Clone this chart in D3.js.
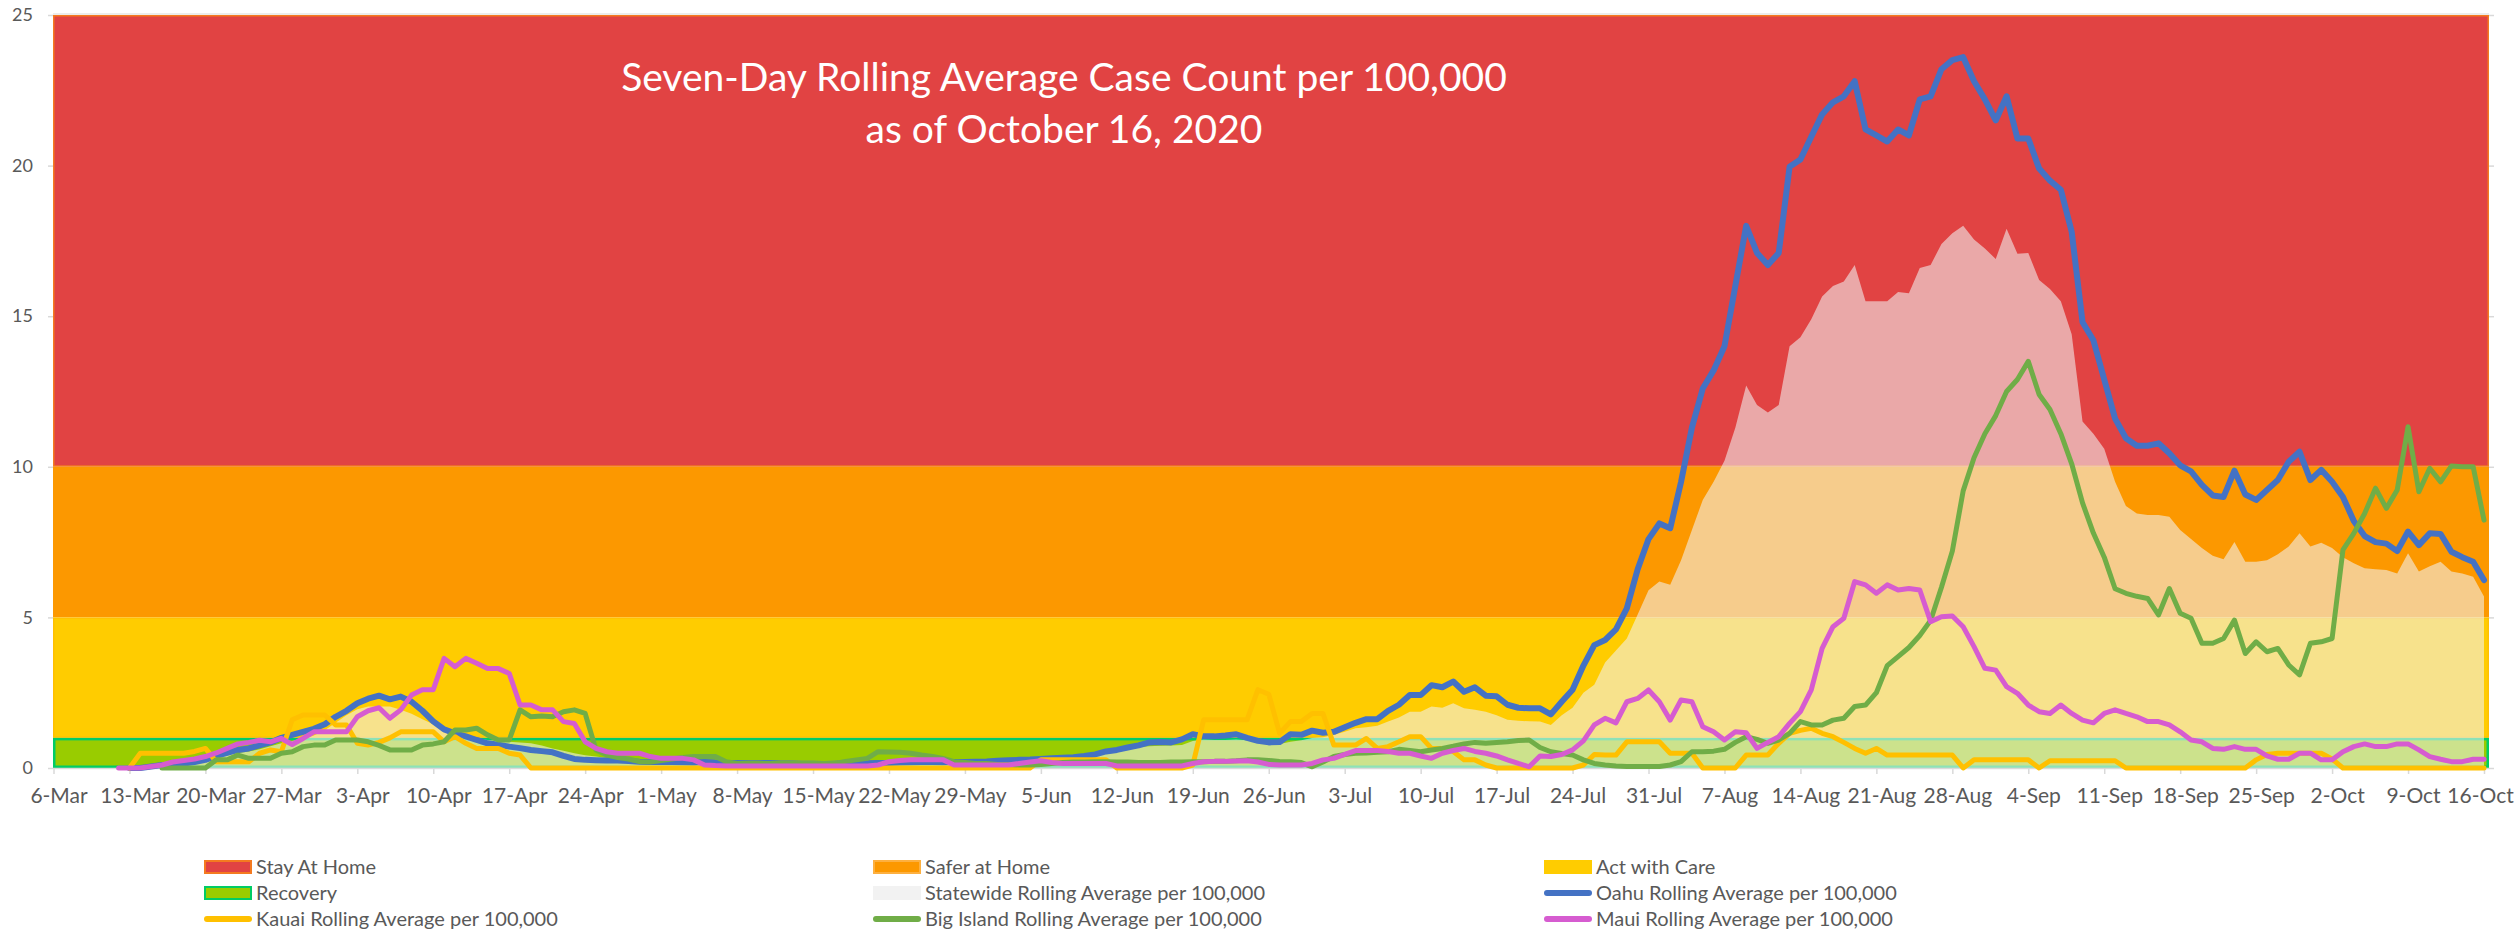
<!DOCTYPE html>
<html>
<head>
<meta charset="utf-8">
<script src="https://cdn.jsdelivr.net/npm/d3@7"></script>
<style>
  body { margin: 0; background: #fff; }
  svg { display: block; font-family: Lato, "Open Sans", sans-serif; }
</style>
</head>
<body>
<div id="chart"></div>
<script>
// dates run daily from startDate to endDate, one value per day (null = no data yet)
const startDate = "6-Mar-2020";
const endDate = "16-Oct-2020";

const tickLabels = ["6-Mar", "13-Mar", "20-Mar", "27-Mar", "3-Apr", "10-Apr", "17-Apr", "24-Apr",
    "1-May", "8-May", "15-May", "22-May", "29-May", "5-Jun", "12-Jun", "19-Jun", "26-Jun",
    "3-Jul", "10-Jul", "17-Jul", "24-Jul", "31-Jul", "7-Aug", "14-Aug", "21-Aug", "28-Aug",
    "4-Sep", "11-Sep", "18-Sep", "25-Sep", "2-Oct", "9-Oct", "16-Oct"];

const yTicks = [0, 5, 10, 15, 20, 25];

// reopening tiers (background bands)
const bandNames = ["Stay At Home", "Safer at Home", "Act with Care", "Recovery"];
const bandLow = [10, 5, 1, 0];
const bandHigh = [25, 10, 5, 1];

const statewide = [
    null, null, null, null, null, null, null,
    0, 0.05, 0.1, 0.12, 0.15, 0.2, 0.25,
    0.3, 0.38, 0.45, 0.5, 0.55, 0.62, 0.72,
    0.82, 0.9, 0.98, 1.08, 1.25, 1.5, 1.75,
    1.95, 2.04, 2.04, 2.04, 1.93, 1.8, 1.62,
    1.45, 1.3, 1.15, 1.04, 0.98, 0.93, 0.9,
    0.87, 0.85, 0.82, 0.75, 0.65, 0.57, 0.49,
    0.42, 0.38, 0.33, 0.28, 0.25, 0.23, 0.21,
    0.21, 0.2, 0.2, 0.2, 0.18, 0.17, 0.16,
    0.15, 0.14, 0.14, 0.13, 0.13, 0.12, 0.12,
    0.12, 0.12, 0.13, 0.14, 0.15, 0.17, 0.2,
    0.22, 0.23, 0.23, 0.22, 0.2, 0.19, 0.18,
    0.18, 0.18, 0.19, 0.2, 0.22, 0.24, 0.26,
    0.3, 0.32, 0.34, 0.36, 0.4, 0.43, 0.5,
    0.6, 0.65, 0.7, 0.72, 0.74, 0.75, 0.76,
    0.9, 0.95, 0.93, 0.93, 0.95, 0.92, 0.93,
    0.9, 0.8, 0.87, 0.92, 1.0, 1.02, 1.1,
    1.2, 1.32, 1.35, 1.4, 1.54, 1.68, 1.87,
    1.87, 2.04, 2.0, 2.15, 1.98, 1.93, 1.87,
    1.75, 1.6, 1.57, 1.55, 1.54, 1.43, 1.75,
    2.0, 2.5, 2.76, 3.5, 3.9, 4.3, 5.1,
    5.9, 6.19, 6.08, 6.9, 7.9, 8.9, 9.5,
    10.2, 11.3, 12.7, 12.05, 11.8, 12.05, 14.0,
    14.3, 14.9, 15.65, 16.0, 16.15, 16.7, 15.5,
    15.5, 15.5, 15.8, 15.76, 16.6, 16.7, 17.4,
    17.75, 18.0, 17.55, 17.25, 16.9, 17.9, 17.07,
    17.1, 16.2, 15.9, 15.5, 14.4, 11.5, 11.1,
    10.6, 9.5, 8.7, 8.45, 8.4, 8.4, 8.34,
    7.9, 7.6, 7.3, 7.05, 6.93, 7.5, 6.85,
    6.85, 6.9, 7.1, 7.35, 7.79, 7.35, 7.48,
    7.3, 7.0, 6.8, 6.63, 6.6, 6.57, 6.46,
    7.13, 6.52, 6.7, 6.85, 6.52, 6.46, 6.35,
    5.69
];

const oahu = [
    null, null, null, null, null, null, null,
    0, 0, 0.05, 0.1, 0.1, 0.15, 0.2,
    0.27, 0.4, 0.5, 0.6, 0.65, 0.75, 0.85,
    1.0, 1.1, 1.2, 1.3, 1.45, 1.7, 1.9,
    2.15, 2.3, 2.4, 2.28, 2.37, 2.2, 1.9,
    1.55, 1.28, 1.15, 1.05, 0.93, 0.82, 0.77,
    0.71, 0.66, 0.6, 0.56, 0.52, 0.4, 0.3,
    0.27, 0.26, 0.25, 0.25, 0.23, 0.21, 0.2,
    0.2, 0.2, 0.19, 0.18, 0.2, 0.18, 0.17,
    0.17, 0.16, 0.16, 0.17, 0.15, 0.15, 0.14,
    0.14, 0.13, 0.14, 0.15, 0.15, 0.16, 0.17,
    0.17, 0.18, 0.19, 0.2, 0.2, 0.19, 0.2,
    0.2, 0.21, 0.22, 0.24, 0.26, 0.27, 0.28,
    0.3, 0.32, 0.34, 0.36, 0.4, 0.45, 0.55,
    0.6, 0.68, 0.75, 0.85, 0.86, 0.85, 0.95,
    1.12, 1.05, 1.05, 1.08, 1.12, 1.0, 0.9,
    0.85, 0.86, 1.12, 1.1, 1.24, 1.17, 1.2,
    1.35, 1.5, 1.62, 1.62, 1.9, 2.1, 2.42,
    2.42, 2.75, 2.68, 2.87, 2.53, 2.68, 2.4,
    2.38, 2.1, 2.0, 1.98, 1.98, 1.78, 2.2,
    2.6, 3.4, 4.08, 4.25, 4.6, 5.3, 6.6,
    7.6, 8.12, 7.96, 9.5, 11.3, 12.6, 13.2,
    14.0, 16.0, 18.0, 17.1, 16.7, 17.1, 19.96,
    20.2, 20.96, 21.7, 22.1, 22.3, 22.8, 21.2,
    21.0, 20.8, 21.2, 21.0, 22.2, 22.3, 23.2,
    23.5, 23.6, 22.8, 22.2, 21.5, 22.3, 20.9,
    20.9, 19.9, 19.5, 19.2, 17.8, 14.8, 14.2,
    12.9, 11.6, 10.95, 10.7, 10.7, 10.78, 10.45,
    10.05, 9.85, 9.4, 9.05, 9.0, 9.87, 9.08,
    8.9, 9.23, 9.56, 10.17, 10.5, 9.56, 9.9,
    9.5, 9.0, 8.2, 7.7, 7.5, 7.45, 7.2,
    7.85, 7.4, 7.79, 7.77, 7.18, 7.0, 6.85,
    6.24
];

const kauai = [
    null, null, null, null, null, null, null,
    0, 0.49, 0.49, 0.49, 0.49, 0.49, 0.55,
    0.65, 0.21, 0.21, 0.21, 0.21, 0.49, 0.6,
    0.54, 1.6, 1.76, 1.76, 1.76, 1.43, 1.43,
    0.82, 0.76, 0.85, 1.0, 1.2, 1.2, 1.2,
    1.2, 0.87, 1.04, 0.82, 0.65, 0.65, 0.65,
    0.49, 0.43, 0, 0, 0, 0, 0,
    0, 0, 0, 0, 0, 0, 0,
    0, 0, 0, 0, 0, 0, 0,
    0, 0, 0, 0, 0, 0, 0,
    0, 0, 0, 0, 0, 0, 0,
    0, 0, 0, 0, 0, 0, 0,
    0, 0, 0, 0, 0, 0, 0,
    0.27, 0.27, 0.27, 0.27, 0.27, 0.27, 0.27,
    0, 0, 0, 0, 0, 0, 0,
    0.1, 1.6, 1.6, 1.6, 1.6, 1.6, 2.6,
    2.45, 1.15, 1.54, 1.54, 1.81, 1.81, 0.76,
    0.76, 0.76, 0.98, 0.65, 0.71, 0.87, 1.04,
    1.04, 0.65, 0.65, 0.55, 0.27, 0.27, 0.1,
    0, 0, 0, 0, 0, 0, 0,
    0, 0.1, 0.45, 0.43, 0.43, 0.87, 0.87,
    0.87, 0.87, 0.49, 0.49, 0.49, 0, 0,
    0, 0, 0.43, 0.43, 0.43, 0.82, 1.15,
    1.25, 1.32, 1.15, 1.04, 0.85, 0.65, 0.49,
    0.65, 0.43, 0.43, 0.43, 0.43, 0.43, 0.43,
    0.43, 0, 0.27, 0.27, 0.27, 0.27, 0.27,
    0.27, 0, 0.24, 0.24, 0.24, 0.24, 0.24,
    0.24, 0.24, 0, 0, 0, 0, 0,
    0, 0, 0, 0, 0, 0, 0,
    0.27, 0.45, 0.49, 0.49, 0.49, 0.49, 0.49,
    0.3, 0, 0, 0, 0, 0, 0,
    0, 0, 0, 0, 0, 0, 0,
    0
];

const bigIsland = [
    null, null, null, null, null, null, null,
    null, null, null, 0, 0, 0, 0,
    0, 0.27, 0.27, 0.43, 0.32, 0.32, 0.32,
    0.49, 0.54, 0.71, 0.76, 0.76, 0.93, 0.93,
    0.93, 0.87, 0.75, 0.6, 0.6, 0.6, 0.76,
    0.8, 0.87, 1.26, 1.26, 1.32, 1.1, 0.93,
    0.93, 1.93, 1.7, 1.73, 1.7, 1.87, 1.93,
    1.81, 0.6, 0.43, 0.35, 0.3, 0.21, 0.2,
    0.25, 0.3, 0.35, 0.38, 0.38, 0.38, 0.21,
    0.15, 0.15, 0.15, 0.15, 0.15, 0.15, 0.15,
    0.15, 0.15, 0.15, 0.22, 0.27, 0.32, 0.54,
    0.53, 0.52, 0.49, 0.43, 0.38, 0.32, 0.21,
    0.18, 0.15, 0.15, 0.12, 0.12, 0.1, 0.1,
    0.12, 0.15, 0.18, 0.2, 0.2, 0.21, 0.21,
    0.2, 0.2, 0.18, 0.18, 0.18, 0.2, 0.2,
    0.21, 0.21, 0.22, 0.22, 0.24, 0.27, 0.27,
    0.25, 0.22, 0.21, 0.18, 0.04, 0.2, 0.38,
    0.45, 0.49, 0.5, 0.52, 0.54, 0.62, 0.58,
    0.54, 0.6, 0.65, 0.72, 0.8, 0.85, 0.82,
    0.85, 0.87, 0.91, 0.93, 0.68, 0.54, 0.48,
    0.43, 0.27, 0.15, 0.1, 0.07, 0.05, 0.05,
    0.05, 0.05, 0.1, 0.21, 0.54, 0.54, 0.56,
    0.62, 0.85, 1.04, 0.95, 0.82, 0.93, 1.15,
    1.54, 1.43, 1.43, 1.59, 1.65, 2.04, 2.09,
    2.5, 3.4, 3.7, 4.0, 4.4, 4.9, 6.0,
    7.2, 9.2, 10.3, 11.1, 11.7, 12.5, 12.9,
    13.5, 12.4, 11.9, 11.1, 10.1, 8.8, 7.8,
    7.0, 5.95, 5.8, 5.7, 5.63, 5.08, 5.96,
    5.14, 4.97, 4.14, 4.14, 4.3, 4.91, 3.8,
    4.19, 3.86, 3.97, 3.42, 3.09, 4.14, 4.19,
    4.3, 7.24, 7.79, 8.45, 9.29, 8.62, 9.23,
    11.33, 9.17, 9.95, 9.5, 10.03, 10.0, 10.0,
    8.23
];

const maui = [
    null, null, null, null, null, null, 0,
    0, 0, 0.05, 0.1, 0.2, 0.25, 0.3,
    0.38, 0.5, 0.65, 0.8, 0.85, 0.92, 0.87,
    0.98, 0.78, 0.98, 1.2, 1.2, 1.2, 1.2,
    1.7, 1.9, 2.0, 1.65, 1.93, 2.42, 2.6,
    2.6, 3.64, 3.36, 3.64, 3.48, 3.3, 3.3,
    3.14, 2.09, 2.09, 1.93, 1.93, 1.54, 1.48,
    0.87, 0.65, 0.54, 0.49, 0.49, 0.49, 0.38,
    0.32, 0.32, 0.32, 0.27, 0.1, 0.08, 0.07,
    0.07, 0.07, 0.07, 0.07, 0.07, 0.07, 0.07,
    0.07, 0.07, 0.07, 0.07, 0.07, 0.07, 0.1,
    0.21, 0.25, 0.27, 0.27, 0.27, 0.27, 0.1,
    0.1, 0.1, 0.1, 0.1, 0.1, 0.15, 0.2,
    0.24, 0.18, 0.15, 0.15, 0.15, 0.15, 0.15,
    0.07, 0.07, 0.07, 0.07, 0.07, 0.07, 0.07,
    0.15, 0.21, 0.22, 0.22, 0.23, 0.24, 0.2,
    0.12, 0.1, 0.1, 0.1, 0.15, 0.27, 0.32,
    0.45, 0.58, 0.58, 0.58, 0.55, 0.49, 0.49,
    0.4, 0.32, 0.49, 0.58, 0.65, 0.55, 0.49,
    0.4, 0.27, 0.15, 0.04, 0.4, 0.38, 0.45,
    0.6, 0.9, 1.43, 1.65, 1.5, 2.2, 2.31,
    2.59, 2.2, 1.59, 2.26, 2.2, 1.37, 1.2,
    0.93, 1.2, 1.17, 0.65, 0.85, 1.04, 1.48,
    1.87, 2.59, 3.97, 4.69, 4.97, 6.19, 6.08,
    5.8, 6.08, 5.91, 5.96, 5.91, 4.86, 5.02,
    5.05, 4.69, 4.03, 3.31, 3.25, 2.7, 2.48,
    2.09, 1.87, 1.81, 2.09, 1.81, 1.59, 1.5,
    1.81, 1.93, 1.81, 1.7, 1.54, 1.54, 1.43,
    1.2, 0.93, 0.87, 0.65, 0.62, 0.71, 0.62,
    0.62, 0.4, 0.29, 0.29, 0.49, 0.49, 0.27,
    0.27, 0.54, 0.71, 0.8, 0.71, 0.71, 0.8,
    0.8, 0.6, 0.38, 0.29, 0.21, 0.21, 0.29,
    0.29
];

// SETUP
const width = 2516, height = 931;
const plotLeft = 53, plotRight = 2489, plotTop = 15, plotBottom = 768;

const parseDate = d3.utcParse("%d-%b-%Y");
const dates = d3.utcDay.range(parseDate(startDate), d3.utcDay.offset(parseDate(endDate), 1));
const tickDates = tickLabels.map(t => parseDate(t + "-2020"));

const svg = d3.select("#chart")
    .append("svg")
    .attr("width", width)
    .attr("height", height);

svg.append("rect")
    .attr("width", width)
    .attr("height", height)
    .attr("fill", "#fff");

const xScale = d3.scaleUtc()
    .domain([dates[0], dates[dates.length - 1]])
    .range([53.5, 2484]);

const yScale = d3.scaleLinear()
    .domain([0, 25])
    .range([plotBottom, plotTop]);

// tier bands
const bandFill = ["#E14343", "#FC9800", "#FFCC00", "#99CC00"];
const bandStroke = ["#F47A20", "#FC9800", "#FFC000", "#00CC66"];
const bandStrokeWidth = [1.5, 0, 1.5, 2.5];

svg.append("line")
    .attr("x1", plotLeft).attr("x2", plotRight)
    .attr("y1", plotTop - 1).attr("y2", plotTop - 1)
    .attr("stroke", "#D9D9D9")
    .attr("stroke-width", 1);

svg.selectAll("rect.band")
    .data(bandNames)
    .enter()
    .append("rect")
    .attr("class", "band")
    .attr("x", (d, i) => plotLeft + bandStrokeWidth[i] / 2)
    .attr("y", (d, i) => yScale(bandHigh[i]) + bandStrokeWidth[i] / 2)
    .attr("width", (d, i) => plotRight - plotLeft - bandStrokeWidth[i])
    .attr("height", (d, i) => yScale(bandLow[i]) - yScale(bandHigh[i]) - bandStrokeWidth[i])
    .attr("fill", (d, i) => bandFill[i])
    .attr("stroke", (d, i) => bandStrokeWidth[i] ? bandStroke[i] : "none")
    .attr("stroke-width", (d, i) => bandStrokeWidth[i]);

// statewide area (translucent)
const area = d3.area()
    .defined(d => d[1] != null)
    .x(d => xScale(d[0]))
    .y0(yScale(0))
    .y1(d => yScale(d[1]));

svg.append("path")
    .datum(dates.map((d, i) => [d, statewide[i]]))
    .attr("d", area)
    .attr("fill", "#F2F2F2")
    .attr("fill-opacity", 0.58);

// x axis
const xAxis = svg.append("g")
    .attr("transform", `translate(0,${plotBottom})`)
    .call(d3.axisBottom(xScale)
        .tickValues(tickDates)
        .tickFormat((d, i) => tickLabels[i])
        .tickSizeOuter(0)
        .tickSize(6)
        .tickPadding(14));

xAxis.select(".domain").attr("stroke", "#D9D9D9").attr("stroke-width", 1.5)
    .attr("d", `M${plotLeft},0.5H${plotRight}`);
xAxis.selectAll(".tick line").attr("stroke", "#D9D9D9").attr("stroke-width", 1.5);
xAxis.selectAll(".tick text")
    .attr("dx", (d, i) => i === tickLabels.length - 1 ? -4 : 5)
    .attr("fill", "#595959")
    .style("font-size", "21px")
    .style("font-family", "Lato, sans-serif");

// y axis
const yAxis = svg.append("g")
    .attr("transform", `translate(${plotLeft},0)`)
    .call(d3.axisLeft(yScale)
        .tickValues(yTicks)
        .tickSize(5)
        .tickPadding(15));

yAxis.select(".domain").remove();
yAxis.selectAll(".tick line").attr("stroke", "#D9D9D9").attr("stroke-width", 1.5);
yAxis.selectAll(".tick text")
    .attr("fill", "#595959")
    .style("font-size", "18px")
    .style("font-family", "Lato, sans-serif");

const yAxisRight = svg.append("g")
    .attr("transform", `translate(${plotRight},0)`)
    .call(d3.axisRight(yScale).tickValues(yTicks).tickSize(5).tickFormat(""));
yAxisRight.select(".domain").remove();
yAxisRight.selectAll(".tick line").attr("stroke", "#D9D9D9").attr("stroke-width", 1.5);

// county lines, drawn in the order of the legend
const seriesNames = ["Oahu", "Kauai", "Big Island", "Maui"];
const seriesValues = [oahu, kauai, bigIsland, maui];
const seriesColors = ["#4472C4", "#FFC000", "#70AD47", "#D65CD0"];
const seriesWidths = [6, 5, 5, 5];

const line = d3.line()
    .defined(d => d[1] != null)
    .x(d => xScale(d[0]))
    .y(d => yScale(d[1]));

svg.selectAll("path.county")
    .data(seriesValues)
    .enter()
    .append("path")
    .attr("class", "county")
    .attr("d", vals => line(dates.map((d, i) => [d, vals[i]])))
    .attr("fill", "none")
    .attr("stroke", (d, i) => seriesColors[i])
    .attr("stroke-width", (d, i) => seriesWidths[i])
    .attr("stroke-linejoin", "round")
    .attr("stroke-linecap", "round");

// title
const titleLines = ["Seven-Day Rolling Average Case Count per 100,000", "as of October 16, 2020"];
svg.selectAll("text.title")
    .data(titleLines)
    .enter()
    .append("text")
    .attr("class", "title")
    .attr("x", 1064)
    .attr("y", (d, i) => 91 + i * 52)
    .attr("text-anchor", "middle")
    .attr("fill", "#fff")
    .style("font-size", "39px")
    .text(d => d);

// legend: 3 columns x 3 rows
const legendItems = [
    { name: "Stay At Home", type: "rect", fill: bandFill[0], stroke: bandStroke[0] },
    { name: "Safer at Home", type: "rect", fill: bandFill[1], stroke: "#FDB040" },
    { name: "Act with Care", type: "rect", fill: bandFill[2], stroke: bandFill[2] },
    { name: "Recovery", type: "rect", fill: bandFill[3], stroke: bandStroke[3] },
    { name: "Statewide Rolling Average per 100,000", type: "rect", fill: "#F2F2F2", stroke: "#F2F2F2" },
    { name: seriesNames[0] + " Rolling Average per 100,000", type: "line", color: seriesColors[0] },
    { name: seriesNames[1] + " Rolling Average per 100,000", type: "line", color: seriesColors[1] },
    { name: seriesNames[2] + " Rolling Average per 100,000", type: "line", color: seriesColors[2] },
    { name: seriesNames[3] + " Rolling Average per 100,000", type: "line", color: seriesColors[3] }
];
const legendCols = [204, 873, 1544];
const legendRows = [867, 893, 919];

const legend = svg.selectAll("g.legend")
    .data(legendItems)
    .enter()
    .append("g")
    .attr("class", "legend")
    .attr("transform", (d, i) => `translate(${legendCols[i % 3]},${legendRows[Math.floor(i / 3)]})`);

legend.filter(d => d.type === "rect")
    .append("rect")
    .attr("x", 1).attr("y", -6)
    .attr("width", 46).attr("height", 12)
    .attr("fill", d => d.fill)
    .attr("stroke", d => d.stroke)
    .attr("stroke-width", 2);

legend.filter(d => d.type === "line")
    .append("line")
    .attr("x1", 3).attr("x2", 45)
    .attr("stroke", d => d.color)
    .attr("stroke-width", 6)
    .attr("stroke-linecap", "round");

legend.append("text")
    .attr("x", 52)
    .attr("dy", "0.35em")
    .attr("fill", "#595959")
    .style("font-size", "20px")
    .text(d => d.name);
</script>
</body>
</html>
